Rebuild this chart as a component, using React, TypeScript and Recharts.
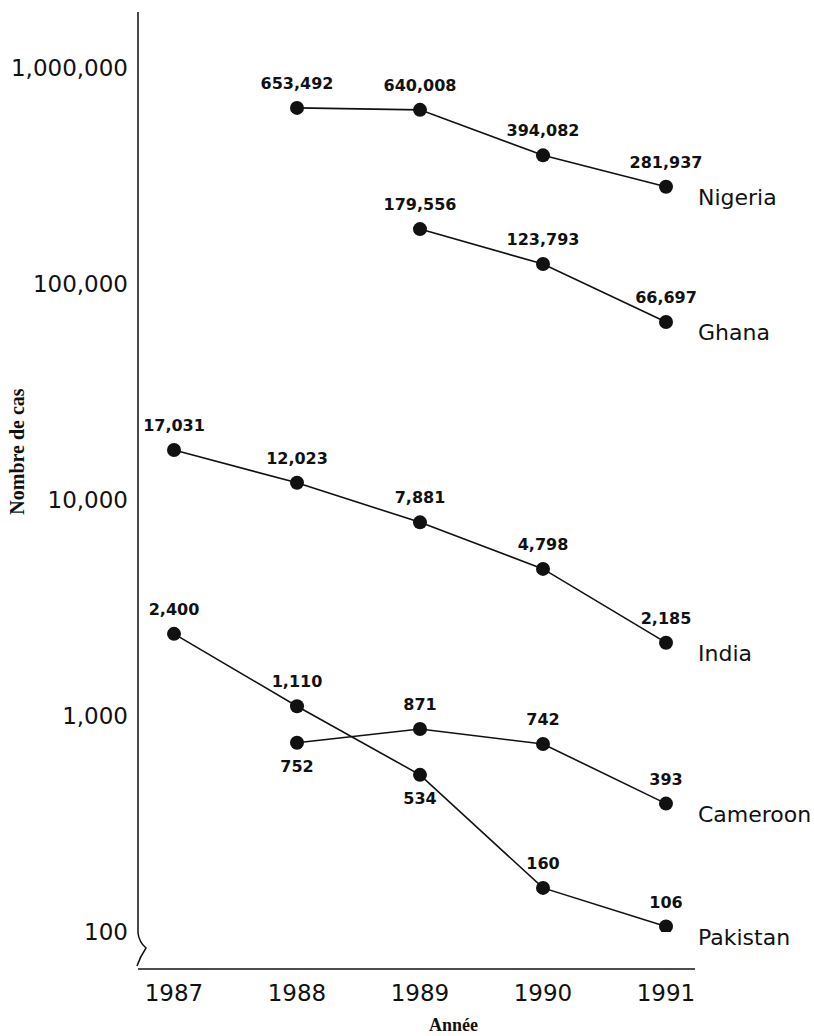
import React from 'react';
import { LineChart, Line, XAxis, YAxis, LabelList } from 'recharts';

const years = [1987, 1988, 1989, 1990, 1991];
const nigeria = [null, 653492, 640008, 394082, 281937];
const ghana = [null, null, 179556, 123793, 66697];
const india = [17031, 12023, 7881, 4798, 2185];
const cameroon = [null, 752, 871, 742, 393];
const pakistan = [2400, 1110, 534, 160, 106];
const yTicks = [100, 1000, 10000, 100000, 1000000];

const countries = [
  { key: 'Nigeria', values: nigeria },
  { key: 'Ghana', values: ghana },
  { key: 'India', values: india },
  { key: 'Cameroon', values: cameroon },
  { key: 'Pakistan', values: pakistan },
];

// points whose value is printed under the dot instead of above it
const labelsBelow: Record<string, number[]> = { Cameroon: [1988], Pakistan: [1989] };

const data = years.map((year, i) => {
  const row: any = { year };
  countries.forEach(c => { row[c.key] = c.values[i]; });
  return row;
});

const sans = "'DejaVu Sans', sans-serif";
const serif = "'Liberation Serif', 'DejaVu Serif', serif";
const ink = '#111';
const fmt = (v: number) => v.toLocaleString('en-US');

const valueLabel = (country: string) => (props: any) => {
  const { x, y, value, index } = props;
  if (value == null || x == null || y == null) return null;
  const below = (labelsBelow[country] || []).includes(years[index]);
  return (
    <text x={x} y={below ? y + 29 : y - 19} textAnchor="middle" fontSize={16} fontWeight="bold" fontFamily={sans} fill={ink}>
      {fmt(value)}
    </text>
  );
};

const nameLabel = (country: string) => (props: any) => {
  const { x, y, index } = props;
  if (index !== years.length - 1 || x == null || y == null) return null;
  return (
    <text x={x + 32} y={y + 11} dominantBaseline="central" fontSize={22} fontFamily={sans} fill={ink}>
      {country}
    </text>
  );
};

// y axis title plus the axis line itself, with the little break near the bottom
const yAxisDecor = (props: any) => {
  const { viewBox } = props;
  const ax = viewBox.x + viewBox.width;
  const top = viewBox.y;
  const bottom = viewBox.y + viewBox.height;
  const cx = viewBox.x + 17;
  const cy = viewBox.y + viewBox.height / 2 - 39;
  return (
    <g>
      <path
        d={`M ${ax} ${top} L ${ax} ${bottom - 36} Q ${ax + 1} ${bottom - 27} ${ax + 8} ${bottom - 21} Q ${ax + 2} ${bottom - 12} ${ax - 1} ${bottom - 3}`}
        fill="none"
        stroke={ink}
        strokeWidth={1.5}
      />
      <text x={cx} y={cy} transform={`rotate(-90 ${cx} ${cy})`} textAnchor="middle" dominantBaseline="central" fontSize={20} fontWeight="bold" fontFamily={serif} fill={ink}>
        Nombre de cas
      </text>
    </g>
  );
};

export default function App() {
  return (
    <div style={{ position: 'absolute', left: 0, top: 0, background: '#fff' }}>
      <LineChart width={814} height={1036} data={data} margin={{ top: 12, right: 119, bottom: 0, left: 0 }}>
        <XAxis
          dataKey="year"
          type="number"
          domain={[1987, 1991]}
          ticks={years}
          padding={{ left: 36, right: 29 }}
          height={67}
          tickLine={false}
          tickSize={0}
          tickMargin={16}
          axisLine={{ stroke: ink, strokeWidth: 1.5 }}
          tick={{ fontSize: 23, fontFamily: sans, fill: ink }}
          label={{ value: 'Année', position: 'insideBottom', offset: 5, dx: 37, fontSize: 18, fontWeight: 'bold', fontFamily: serif, fill: ink }}
        />
        <YAxis
          type="number"
          scale="log"
          domain={[100, 1000000]}
          ticks={yTicks}
          allowDataOverflow
          padding={{ top: 56, bottom: 37 }}
          width={138}
          tickLine={false}
          tickSize={0}
          tickMargin={10}
          tickFormatter={fmt}
          axisLine={false}
          tick={{ fontSize: 23, fontFamily: sans, fill: ink }}
          label={{ content: yAxisDecor }}
        />
        {countries.map(c => (
          <Line
            key={c.key}
            dataKey={c.key}
            type="linear"
            stroke={ink}
            strokeWidth={1.6}
            dot={{ r: 7, fill: ink, stroke: ink, strokeWidth: 0 }}
            activeDot={false}
            isAnimationActive={false}
          >
            <LabelList dataKey={c.key} content={valueLabel(c.key)} />
            <LabelList dataKey={c.key} content={nameLabel(c.key)} />
          </Line>
        ))}
      </LineChart>
    </div>
  );
}
